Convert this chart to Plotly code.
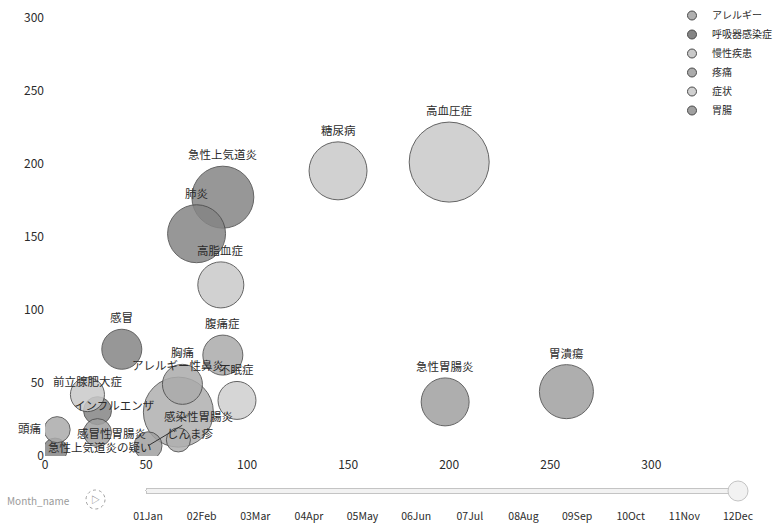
import math
import plotly.graph_objects as go

# Disease bubbles: x / y position values, bubble size = patient count
diseases = ["急性上気道炎", "肺炎", "高脂血症", "糖尿病", "高血圧症", "急性胃腸炎", "胃潰瘍",
            "感冒", "腹痛症", "胸痛", "アレルギー性鼻炎", "不眠症", "前立腺肥大症", "インフルエンザ",
            "頭痛", "感冒性胃腸炎", "急性上気道炎の疑い", "感染性胃腸炎", "じんま疹"]
groups = ["呼吸器感染症", "呼吸器感染症", "慢性疾患", "慢性疾患", "慢性疾患", "胃腸", "胃腸",
          "呼吸器感染症", "疼痛", "疼痛", "アレルギー", "症状", "慢性疾患", "呼吸器感染症",
          "疼痛", "胃腸", "呼吸器感染症", "胃腸", "アレルギー"]
x_values = [88, 75, 87, 145, 200, 198, 258, 38, 88, 68, 66, 95, 21, 26, 6, 26, 5, 51, 66]
y_values = [177, 152, 117, 195, 201, 37, 44, 73, 69, 49, 30, 38, 42, 31, 18, 16, 4, 7, 11]
patients = [192, 168, 106, 168, 320, 115, 146, 80, 80, 80, 245, 72, 58, 39, 34, 39, 29, 39, 29]

legend_groups = ["アレルギー", "呼吸器感染症", "慢性疾患", "疼痛", "症状", "胃腸"]
month_labels = ["01Jan", "02Feb", "03Mar", "04Apr", "05May", "06Jun",
                "07Jul", "08Aug", "09Sep", "10Oct", "11Nov", "12Dec"]
x_ticks = [0, 50, 100, 150, 200, 250, 300]
y_ticks = [0, 50, 100, 150, 200, 250, 300]

group_colors = {
    "アレルギー": "#b0b0b0",
    "呼吸器感染症": "#858585",
    "慢性疾患": "#c9c9c9",
    "疼痛": "#ababab",
    "症状": "#d0d0d0",
    "胃腸": "#a0a0a0",
}

MAX_DIAMETER = 80
size_ref = 2.0 * max(patients) / (MAX_DIAMETER ** 2)

# label offsets (px) for crowded bubbles; the rest sit just above their bubble
label_offsets = {
    "前立腺肥大症": (0, -14, False),
    "インフルエンザ": (16, -6, False),
    "頭痛": (-28, -2, False),
    "感冒性胃腸炎": (14, 0, False),
    "急性上気道炎の疑い": (45, -3, True),
    "感染性胃腸炎": (50, -30, True),
    "じんま疹": (12, -7, False),
}

FONT = "Noto Sans CJK JP, Noto Sans, sans-serif"
TEXT = "#2b2b2b"

# plot-area geometry in pixels
W, H = 780, 526
PLOT_L, PLOT_R, PLOT_T, PLOT_B = 45, 60, 10, 70
plot_w = W - PLOT_L - PLOT_R
plot_h = H - PLOT_T - PLOT_B


def px_x(px):
    return (px - PLOT_L) / plot_w


def px_y(py):
    return (H - PLOT_B - py) / plot_h


fig = go.Figure()

for g in legend_groups:
    idx = [i for i, gg in enumerate(groups) if gg == g]
    fig.add_trace(go.Scatter(
        x=[x_values[i] for i in idx],
        y=[y_values[i] for i in idx],
        mode="markers",
        name=g,
        legendgroup=g,
        showlegend=False,
        text=[diseases[i] for i in idx],
        customdata=[patients[i] for i in idx],
        hovertemplate="%{text}<br>x=%{x}<br>y=%{y}<br>患者数=%{customdata}<extra>" + g + "</extra>",
        marker=dict(
            size=[patients[i] for i in idx],
            sizemode="area",
            sizeref=size_ref,
            color=group_colors[g],
            opacity=0.85,
            line=dict(color="#4a4a4a", width=1),
        ),
    ))

# legend entries with small fixed-size dots
for g in legend_groups:
    fig.add_trace(go.Scatter(
        x=[None], y=[None], mode="markers", name=g, legendgroup=g,
        marker=dict(size=9, color=group_colors[g], line=dict(color="#4a4a4a", width=1)),
    ))

annotations = []
for i, name in enumerate(diseases):
    r = MAX_DIAMETER / 2 * math.sqrt(patients[i] / max(patients))
    dx, dy, leader = label_offsets.get(name, (0, -(r + 12), False))
    if leader:
        annotations.append(dict(
            x=x_values[i], y=y_values[i], xref="x", yref="y", text=name,
            showarrow=True, arrowhead=0, arrowwidth=1, arrowcolor="#333333",
            ax=dx, ay=dy, standoff=0,
            font=dict(family=FONT, size=11.5, color=TEXT),
        ))
    else:
        annotations.append(dict(
            x=x_values[i], y=y_values[i], xref="x", yref="y", text=name,
            showarrow=False, xshift=dx, yshift=-dy,
            font=dict(family=FONT, size=11.5, color=TEXT),
        ))

# play-axis caption
annotations.append(dict(
    x=px_x(38), y=px_y(500), xref="paper", yref="paper", text="Month_name",
    xanchor="center", yanchor="middle", showarrow=False,
    font=dict(family=FONT, size=10, color="#9a9a9a"),
))

fig.update_layout(
    width=W, height=H,
    margin=dict(l=PLOT_L, r=PLOT_R, t=PLOT_T, b=PLOT_B, autoexpand=False),
    paper_bgcolor="white", plot_bgcolor="white",
    font=dict(family=FONT, size=12, color=TEXT),
    xaxis=dict(range=[0, 334], tickvals=x_ticks, showgrid=False, zeroline=False,
               showline=False, ticks="", tickfont=dict(size=12, color=TEXT)),
    yaxis=dict(range=[0, 305], tickvals=y_ticks, showgrid=False, zeroline=False,
               showline=False, ticks="", tickfont=dict(size=12, color=TEXT)),
    legend=dict(x=px_x(672), xanchor="left", y=px_y(1), yanchor="top",
                font=dict(family=FONT, size=10, color=TEXT),
                bgcolor="rgba(0,0,0,0)", itemwidth=30, tracegroupgap=0),
    annotations=annotations,
    shapes=[dict(
        type="circle", xref="paper", yref="paper",
        x0=px_x(86), x1=px_x(105), y0=px_y(509), y1=px_y(490),
        line=dict(color="#a0a0a0", width=1, dash="dot"),
    )],
    updatemenus=[dict(
        type="buttons", showactive=False,
        x=px_x(95.5), xanchor="center",
        y=px_y(499.5), yanchor="middle",
        pad=dict(l=0, r=0, t=0, b=0),
        bgcolor="rgba(0,0,0,0)", bordercolor="rgba(0,0,0,0)", borderwidth=0,
        font=dict(size=9, color="#777777"),
        buttons=[dict(label="▷", method="skip", args=[None])],
    )],
    sliders=[dict(
        active=11,
        x=px_x(138), len=(748 - 138) / plot_w,
        y=px_y(481), yanchor="top",
        pad=dict(l=0, r=0, t=0, b=0),
        currentvalue=dict(visible=False),
        bgcolor="#f2f2f2", bordercolor="#c4c4c4", borderwidth=1,
        activebgcolor="#dddddd",
        tickcolor="white", ticklen=0, minorticklen=0,
        font=dict(family=FONT, size=10.5, color=TEXT),
        steps=[dict(label=m, method="skip", args=[None]) for m in month_labels],
    )],
)

fig.write_html("out.html")
